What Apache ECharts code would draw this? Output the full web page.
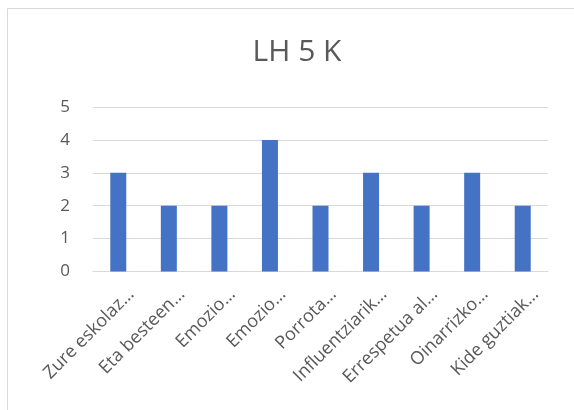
<!DOCTYPE html>
<html>
<head>
<meta charset="utf-8">
<script src="https://cdn.jsdelivr.net/npm/echarts@6/dist/echarts.min.js"></script>
<style>
  html, body { margin: 0; padding: 0; background: #ffffff; }
  #chart { width: 574px; height: 410px; }
</style>
</head>
<body>
<div id="chart"></div>
<script>
// Survey items (labels are shortened as displayed on the axis)
const categories = [
  'Zure eskolaz…',
  'Eta besteen…',
  'Emozio…',
  'Emozio…',
  'Porrota…',
  'Influentziarik…',
  'Errespetua al…',
  'Oinarrizko…',
  'Kide guztiak…'
];
// Response counts per item
const values = [3, 2, 2, 4, 2, 3, 2, 3, 2];
// Value axis range and step
const yMin = 0;
const yMax = 5;
const yStep = 1;

const chart = echarts.init(document.getElementById('chart'), null, { renderer: 'canvas' });
const textColor = '#595959';
const font = '"Open Sans", "Noto Sans", sans-serif';

chart.setOption({
  animation: false,
  backgroundColor: '#ffffff',
  title: {
    text: 'LH 5 K',
    left: 292,
    top: 32,
    textAlign: 'center',
    textStyle: { color: textColor, fontSize: 30, fontWeight: 'normal', fontFamily: font }
  },
  graphic: [{
    type: 'rect',
    shape: { x: 7.5, y: 8.5, width: 600, height: 450 },
    style: { fill: 'none', stroke: '#d9d9d9', lineWidth: 1 },
    silent: true
  }],
  grid: { left: 93, right: 26, top: 107, bottom: 138.5, containLabel: false },
  xAxis: {
    type: 'category',
    data: categories,
    axisTick: { show: false },
    axisLine: { lineStyle: { color: '#d9d9d9', width: 1 } },
    axisLabel: {
      interval: 0,
      rotate: 45,
      margin: 7,
      verticalAlign: 'top',
      lineHeight: 37,
      color: textColor,
      fontSize: 18,
      fontFamily: font
    }
  },
  yAxis: {
    type: 'value',
    min: yMin,
    max: yMax,
    interval: yStep,
    axisLine: { show: false },
    axisTick: { show: false },
    splitLine: { lineStyle: { color: '#d9d9d9', width: 1 } },
    axisLabel: { color: textColor, fontSize: 17, fontFamily: font, margin: 23 }
  },
  series: [{
    type: 'bar',
    data: values,
    barWidth: 16,
    itemStyle: { color: '#4472c4' }
  }]
});
</script>
</body>
</html>
